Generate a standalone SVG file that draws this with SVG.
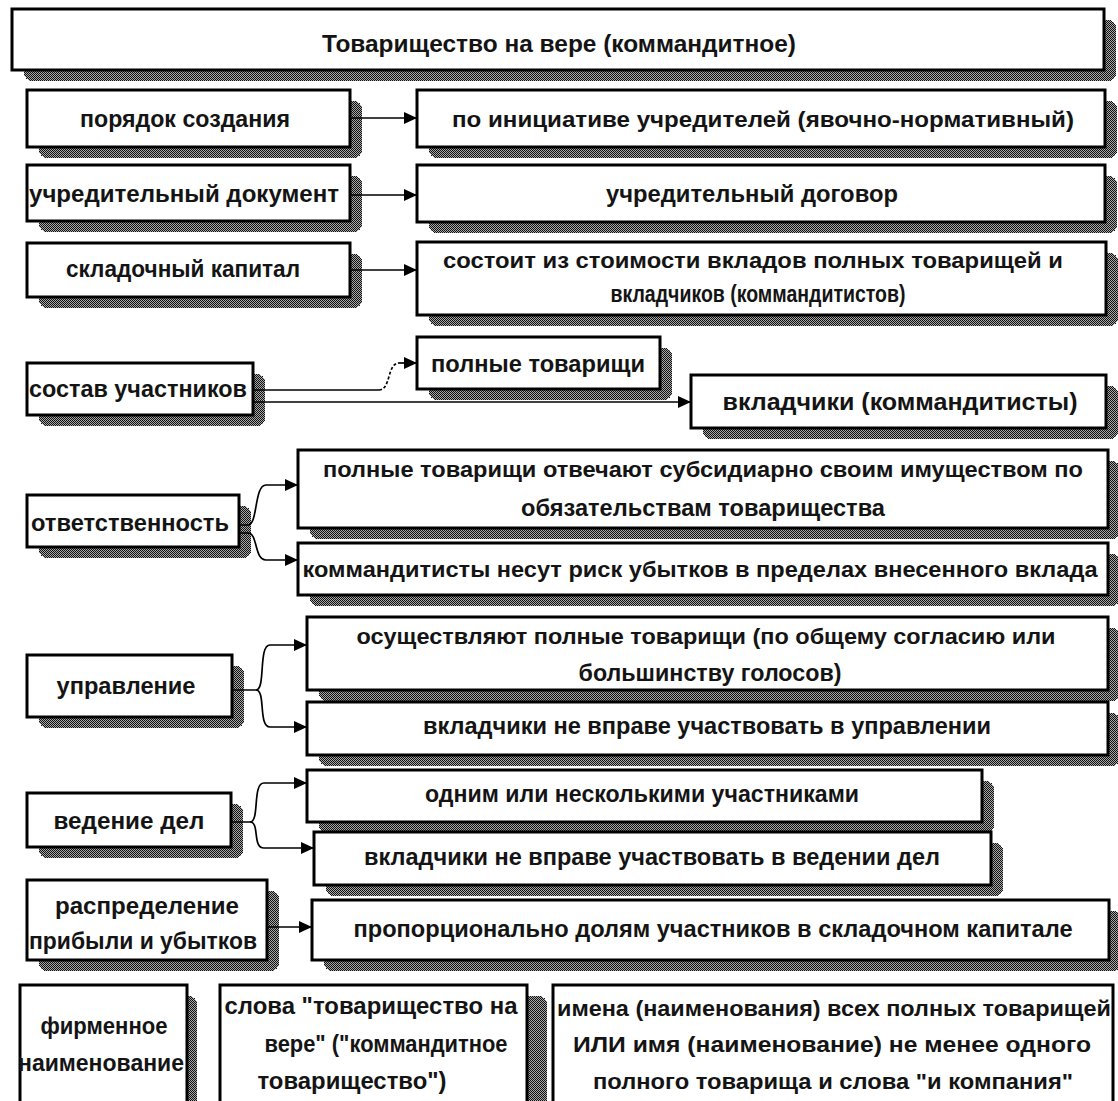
<svg xmlns="http://www.w3.org/2000/svg" width="1118" height="1101" viewBox="0 0 1118 1101">
<defs>
<pattern id="dith" x="0" y="0" width="4" height="4" patternUnits="userSpaceOnUse">
<rect width="4" height="4" fill="#a8a8a8"/>
<rect x="0" y="0" width="1" height="1" fill="#111"/>
<rect x="2" y="0" width="1" height="1" fill="#111"/>
<rect x="1" y="1" width="1" height="1" fill="#111"/>
<rect x="3" y="1" width="1" height="1" fill="#111"/>
<rect x="0" y="2" width="1" height="1" fill="#111"/>
<rect x="2" y="2" width="1" height="1" fill="#111"/>
<rect x="1" y="3" width="1" height="1" fill="#111"/>
<rect x="3" y="3" width="1" height="1" fill="#111"/>
</pattern>
<marker id="ah" markerUnits="userSpaceOnUse" markerWidth="14" markerHeight="12" refX="13" refY="6" orient="auto">
<path d="M0,0 L13,6 L0,12 z" fill="#000"/>
</marker>
<style>
.box{fill:#fff;stroke:#000;stroke-width:3}
.sh{fill:url(#dith);shape-rendering:crispEdges}
.t{font-family:"Liberation Sans",Arial,sans-serif;font-weight:bold;font-size:24px;text-anchor:middle;fill:#141414}
.m{font-size:22px}
.c{fill:none;stroke:#000;stroke-width:1.7}
.a{marker-end:url(#ah)}
</style>
</defs>
<rect width="1118" height="1101" fill="#fff"/>

<g id="title">
<rect class="sh" x="24" y="20" width="1092" height="61" rx="8"/>
<rect class="box" x="12" y="9" width="1092" height="61"/>
<text class="t" x="559" y="52" textLength="474" lengthAdjust="spacingAndGlyphs">Товарищество на вере (коммандитное)</text>
</g>

<g id="n-poryadok">
<rect class="sh" x="39" y="101" width="323" height="57" rx="8"/>
<rect class="box" x="27" y="90" width="323" height="57"/>
<text class="t" x="185" y="127" textLength="210" lengthAdjust="spacingAndGlyphs">порядок создания</text>
</g>
<g id="n-iniciativa">
<rect class="sh" x="429" y="101" width="688" height="57" rx="8"/>
<rect class="box" x="417" y="90" width="688" height="57"/>
<text class="t m" x="763" y="127" textLength="622" lengthAdjust="spacingAndGlyphs">по инициативе учредителей (явочно-нормативный)</text>
</g>

<g id="n-uchr-doc">
<rect class="sh" x="39" y="176" width="323" height="56" rx="8"/>
<rect class="box" x="27" y="165" width="323" height="56"/>
<text class="t" x="184" y="202" textLength="310" lengthAdjust="spacingAndGlyphs">учредительный  документ</text>
</g>
<g id="n-uchr-dog">
<rect class="sh" x="429" y="176" width="688" height="57" rx="8"/>
<rect class="box" x="417" y="165" width="688" height="57"/>
<text class="t" x="752" y="202" textLength="292" lengthAdjust="spacingAndGlyphs">учредительный  договор</text>
</g>

<g id="n-kapital">
<rect class="sh" x="39" y="254" width="323" height="54" rx="8"/>
<rect class="box" x="27" y="243" width="323" height="54"/>
<text class="t" x="183" y="277" textLength="234" lengthAdjust="spacingAndGlyphs">складочный капитал</text>
</g>
<g id="n-sostoit">
<rect class="sh" x="429" y="253" width="689" height="73" rx="8"/>
<rect class="box" x="417" y="242" width="689" height="73"/>
<text class="t m" x="753" y="268" textLength="620" lengthAdjust="spacingAndGlyphs">состоит из стоимости вкладов полных товарищей и</text>
<text class="t" x="758" y="302" textLength="295" lengthAdjust="spacingAndGlyphs">вкладчиков (коммандитистов)</text>
</g>

<g id="n-sostav">
<rect class="sh" x="39" y="374" width="226" height="52" rx="8"/>
<rect class="box" x="27" y="363" width="226" height="52"/>
<text class="t" x="138" y="397" textLength="218" lengthAdjust="spacingAndGlyphs">состав участников</text>
</g>
<g id="n-polnye">
<rect class="sh" x="429" y="348" width="243" height="52" rx="8"/>
<rect class="box" x="417" y="337" width="243" height="52"/>
<text class="t" x="538" y="372" textLength="214" lengthAdjust="spacingAndGlyphs">полные товарищи</text>
</g>
<g id="n-vkladchiki">
<rect class="sh" x="703" y="386" width="415" height="53" rx="8"/>
<rect class="box" x="691" y="375" width="415" height="53"/>
<text class="t" x="900" y="410" textLength="355" lengthAdjust="spacingAndGlyphs">вкладчики (коммандитисты)</text>
</g>

<g id="n-otvet">
<rect class="sh" x="39" y="506" width="212" height="52" rx="8"/>
<rect class="box" x="27" y="495" width="212" height="52"/>
<text class="t" x="130" y="531" textLength="198" lengthAdjust="spacingAndGlyphs">ответственность</text>
</g>
<g id="n-subsid">
<rect class="sh" x="310" y="461" width="810" height="78" rx="8"/>
<rect class="box" x="298" y="450" width="810" height="78"/>
<text class="t m" x="703" y="477" textLength="760" lengthAdjust="spacingAndGlyphs">полные товарищи отвечают субсидиарно своим имуществом по</text>
<text class="t" x="703" y="516" textLength="364" lengthAdjust="spacingAndGlyphs">обязательствам товарищества</text>
</g>
<g id="n-risk">
<rect class="sh" x="310" y="554" width="810" height="52" rx="8"/>
<rect class="box" x="298" y="543" width="810" height="52"/>
<text class="t m" x="700" y="577" textLength="795" lengthAdjust="spacingAndGlyphs">коммандитисты несут риск убытков в пределах внесенного вклада</text>
</g>

<g id="n-upravl">
<rect class="sh" x="39" y="666" width="205" height="62" rx="8"/>
<rect class="box" x="27" y="655" width="205" height="62"/>
<text class="t" x="126" y="694" textLength="139" lengthAdjust="spacingAndGlyphs">управление</text>
</g>
<g id="n-osush">
<rect class="sh" x="319" y="628" width="801" height="73" rx="8"/>
<rect class="box" x="307" y="617" width="801" height="73"/>
<text class="t m" x="706" y="644" textLength="699" lengthAdjust="spacingAndGlyphs">осуществляют полные товарищи (по общему согласию или</text>
<text class="t" x="710" y="681" textLength="263" lengthAdjust="spacingAndGlyphs">большинству голосов)</text>
</g>
<g id="n-ne-upr">
<rect class="sh" x="319" y="713" width="801" height="53" rx="8"/>
<rect class="box" x="307" y="702" width="801" height="53"/>
<text class="t" x="707" y="734" textLength="568" lengthAdjust="spacingAndGlyphs">вкладчики  не вправе участвовать в управлении</text>
</g>

<g id="n-vedenie">
<rect class="sh" x="39" y="804" width="204" height="54" rx="8"/>
<rect class="box" x="27" y="793" width="204" height="54"/>
<text class="t" x="129" y="829" textLength="151" lengthAdjust="spacingAndGlyphs">ведение дел</text>
</g>
<g id="n-odnim">
<rect class="sh" x="319" y="781" width="675" height="52" rx="8"/>
<rect class="box" x="307" y="770" width="675" height="52"/>
<text class="t" x="642" y="802" textLength="434" lengthAdjust="spacingAndGlyphs">одним или несколькими участниками</text>
</g>
<g id="n-ne-ved">
<rect class="sh" x="326" y="843" width="677" height="53" rx="8"/>
<rect class="box" x="314" y="832" width="677" height="53"/>
<text class="t" x="652" y="865" textLength="576" lengthAdjust="spacingAndGlyphs">вкладчики не вправе участвовать в ведении дел</text>
</g>

<g id="n-raspr">
<rect class="sh" x="39" y="891" width="240" height="80" rx="8"/>
<rect class="box" x="27" y="880" width="240" height="80"/>
<text class="t" x="147" y="914" textLength="184" lengthAdjust="spacingAndGlyphs">распределение</text>
<text class="t" x="143" y="949" textLength="228" lengthAdjust="spacingAndGlyphs">прибыли и убытков</text>
</g>
<g id="n-proporc">
<rect class="sh" x="324" y="911" width="797" height="60" rx="8"/>
<rect class="box" x="312" y="900" width="797" height="60"/>
<text class="t" x="713" y="937" textLength="719" lengthAdjust="spacingAndGlyphs">пропорционально долям участников в складочном капитале</text>
</g>

<g id="n-firm">
<rect class="sh" x="30" y="996" width="167" height="130" rx="8"/>
<rect class="box" x="20" y="985" width="167" height="130"/>
<text class="t" x="104" y="1034" textLength="127" lengthAdjust="spacingAndGlyphs">фирменное</text>
<text class="t" x="101" y="1071" textLength="166" lengthAdjust="spacingAndGlyphs">наименование</text>
</g>
<g id="n-slova">
<rect class="sh" x="230" y="996" width="317" height="130" rx="8"/>
<rect class="box" x="220" y="985" width="307" height="130"/>
<text class="t" x="371" y="1014" textLength="293" lengthAdjust="spacingAndGlyphs">слова "товарищество на</text>
<text class="t" x="386" y="1052" textLength="243" lengthAdjust="spacingAndGlyphs">вере" ("коммандитное</text>
<text class="t" x="352" y="1089" textLength="189" lengthAdjust="spacingAndGlyphs">товарищество")</text>
</g>
<g id="n-imena">
<rect class="box" x="553" y="985" width="560" height="130"/>
<text class="t m" x="834" y="1016" textLength="554" lengthAdjust="spacingAndGlyphs">имена (наименования) всех полных товарищей</text>
<text class="t m" x="832" y="1052" textLength="518" lengthAdjust="spacingAndGlyphs">ИЛИ имя  (наименование) не  менее одного</text>
<text class="t m" x="833" y="1089" textLength="480" lengthAdjust="spacingAndGlyphs">полного товарища  и слова "и компания"</text>
</g>

<g id="connectors">
<path class="c a" d="M350,118 H417"/>
<path class="c a" d="M350,195 H417"/>
<path class="c a" d="M350,270 H417"/>
<path class="c" d="M253,390 H379"/>
<path class="c" stroke-dasharray="3 2" d="M379,390 C391,390 387,363 399,363"/>
<path class="c a" d="M399,363 H417"/>
<path class="c a" d="M253,402 H691"/>
<path class="c a" d="M239,525 H248 C258,525 254,485 266,485 H298"/>
<path class="c a" d="M239,533 H248 C258,533 254,560 266,560 H298"/>
<path class="c a" d="M232,690 H256 C266,690 258,645 270,645 H307"/>
<path class="c a" d="M256,690 C266,690 258,727 270,727 H307"/>
<path class="c a" d="M231,822 H250 C260,822 252,783 264,783 H307"/>
<path class="c a" d="M250,822 C260,822 252,848 264,848 H314"/>
<path class="c a" d="M267,927 H312"/>
</g>
</svg>
